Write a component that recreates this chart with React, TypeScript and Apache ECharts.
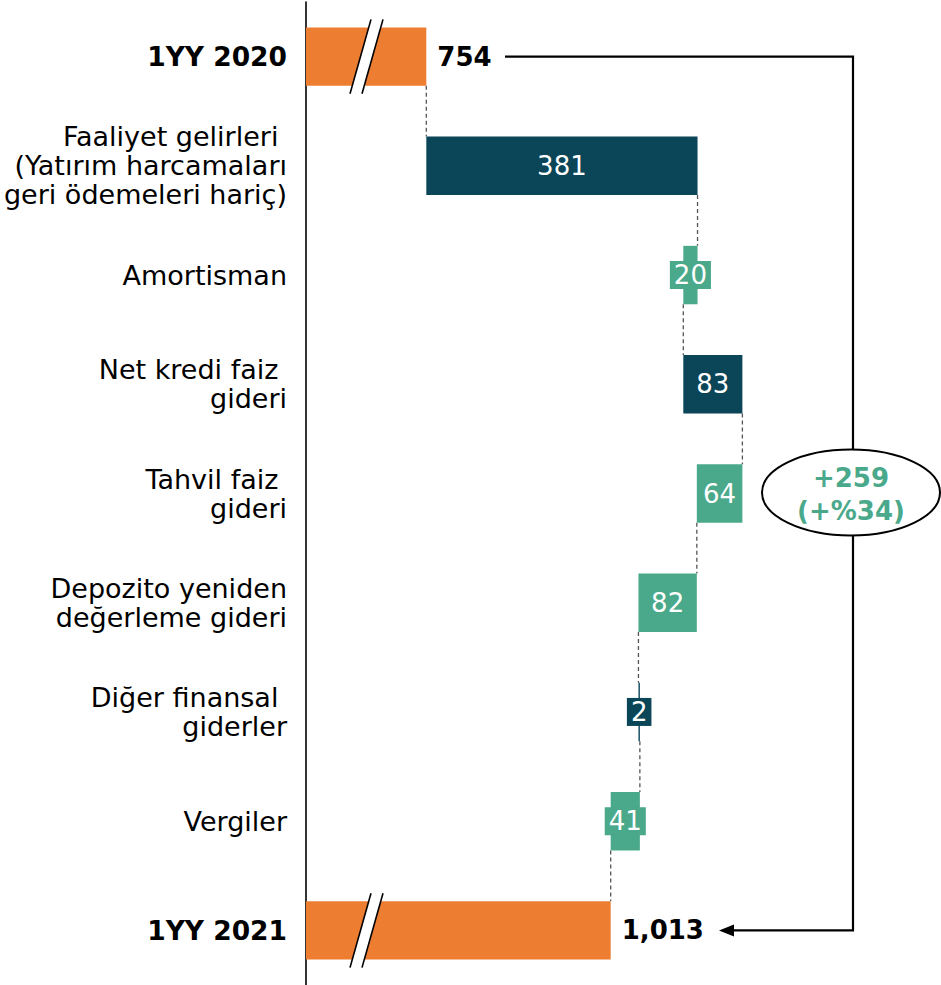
import React, { useEffect, useRef } from 'react';
import * as echarts from 'echarts';

const categories = [
  '1YY 2020',
  'Faaliyet gelirleri \n(Yatırım harcamaları\ngeri ödemeleri hariç)',
  'Amortisman',
  'Net kredi faiz \ngideri',
  'Tahvil faiz \ngideri',
  'Depozito yeniden\ndeğerleme gideri',
  'Diğer finansal \ngiderler',
  'Vergiler',
  '1YY 2021',
];
const startTotal = 754;
const changes = [381, -20, 83, -64, -82, 2, -41];
const endTotal = 1013;
const changeText = ['+259', '(+%34)'];
const axisMin = 585;
const axisMax = 1477;

const ORANGE = '#ED7D31';
const DARK = '#0B4558';
const GREEN = '#4AA98B';
const FONT = 'DejaVu Sans';

// rows: [catIndex, low, high, after, kind(0 total,1 up,2 down), labelValue]
function buildRows() {
  const rows: number[][] = [];
  rows.push([0, 0, startTotal, startTotal, 0, startTotal]);
  let run = startTotal;
  changes.forEach((d, i) => {
    const next = run + d;
    rows.push([i + 1, Math.min(run, next), Math.max(run, next), next, d > 0 ? 1 : 2, Math.abs(d)]);
    run = next;
  });
  rows.push([changes.length + 1, 0, endTotal, endTotal, 0, endTotal]);
  return rows;
}

export default function App() {
  const ref = useRef<HTMLDivElement>(null);
  useEffect(() => {
    if (!ref.current) return;
    const chart = echarts.init(ref.current, null, { renderer: 'svg' });
    const rows = buildRows();
    const nCat = categories.length;

    const renderItem = (params: any, api: any) => {
      const cat = api.value(0);
      const low = api.value(1);
      const high = api.value(2);
      const after = api.value(3);
      const kind = api.value(4);
      const lab = api.value(5);
      const cs = params.coordSys;
      const band = api.size([0, 1])[1];
      const h = band * 0.535;
      const pL = api.coord([low, cat]);
      const pH = api.coord([high, cat]);
      const x0 = Math.max(pL[0], cs.x);
      const x1 = pH[0];
      const cy = pL[1];
      const yT = cy - h / 2;
      const yB = cy + h / 2;
      const color = kind === 0 ? ORANGE : kind === 1 ? DARK : GREEN;
      const children: any[] = [];
      if (cat < nCat - 1) {
        const pA = api.coord([after, cat]);
        const pN = api.coord([after, cat + 1]);
        children.push({
          type: 'line',
          shape: { x1: pA[0], y1: yB, x2: pA[0], y2: pN[1] - h / 2 },
          style: { stroke: '#555', lineWidth: 1.3, lineDash: [4, 3] },
          z2: 1,
        });
      }
      children.push({
        type: 'rect',
        shape: { x: x0, y: yT, width: Math.max(x1 - x0, 0.5), height: h },
        style: { fill: color },
        z2: 2,
      });
      if (kind === 0) {
        const bx = x0;
        children.push({
          type: 'polygon',
          shape: { points: [[bx + 44, yB + 8], [bx + 56, yB + 8], [bx + 77, yT - 8], [bx + 65, yT - 8]] },
          style: { fill: '#fff' },
          z2: 3,
        });
        children.push({
          type: 'line',
          shape: { x1: bx + 44, y1: yB + 8, x2: bx + 65, y2: yT - 8 },
          style: { stroke: '#000', lineWidth: 1.6 },
          z2: 4,
        });
        children.push({
          type: 'line',
          shape: { x1: bx + 56, y1: yB + 8, x2: bx + 77, y2: yT - 8 },
          style: { stroke: '#000', lineWidth: 1.6 },
          z2: 4,
        });
        children.push({
          type: 'text',
          x: x1 + 11,
          y: cy,
          style: {
            text: lab.toLocaleString('en-US'),
            fill: '#000',
            fontSize: 26,
            fontWeight: 'bold',
            fontFamily: FONT,
            align: 'left',
            verticalAlign: 'middle',
          },
          z2: 5,
        });
      } else {
        children.push({
          type: 'text',
          x: (x0 + x1) / 2,
          y: cy,
          style: {
            text: String(lab),
            fill: '#fff',
            fontSize: 26,
            fontFamily: FONT,
            align: 'center',
            verticalAlign: 'middle',
            backgroundColor: color,
            padding: [1, 4, 1, 4],
          },
          z2: 5,
        });
      }
      return { type: 'group', children };
    };

    chart.setOption({
      animation: false,
      grid: { left: 306, top: 2, height: 984, right: 0 },
      xAxis: {
        type: 'value',
        min: axisMin,
        max: axisMax,
        show: false,
      },
      yAxis: {
        type: 'category',
        inverse: true,
        data: categories,
        axisLine: { lineStyle: { color: '#000', width: 1.6 } },
        axisTick: { show: false },
        axisLabel: {
          margin: 19,
          fontSize: 27,
          lineHeight: 29,
          fontFamily: FONT,
          color: '#000',
          align: 'right',
          formatter: (v: string, i: number) =>
            i === 0 || i === nCat - 1 ? `{b|${v}}` : v,
          rich: {
            b: { fontSize: 26.5, fontWeight: 'bold', fontFamily: FONT, color: '#000' },
          },
        },
      },
      series: [
        {
          type: 'custom',
          renderItem,
          encode: { x: [1, 2], y: 0 },
          data: rows,
          clip: false,
        },
      ],
    });

    const yTop = chart.convertToPixel({ gridIndex: 0 }, [startTotal, 0])[1];
    const yBot = chart.convertToPixel({ gridIndex: 0 }, [endTotal, nCat - 1])[1];
    const yMid = chart.convertToPixel({ gridIndex: 0 }, [endTotal, 4])[1];
    const vx = 853;
    chart.setOption({
      graphic: [
        {
          type: 'polyline',
          shape: { points: [[505, yTop], [vx, yTop], [vx, yBot], [730, yBot]] },
          style: { stroke: '#000', lineWidth: 2.2, fill: 'none' },
          z: 10,
        },
        {
          type: 'polygon',
          shape: { points: [[719, yBot], [734, yBot - 6], [734, yBot + 6]] },
          style: { fill: '#000' },
          z: 10,
        },
        {
          type: 'ellipse',
          shape: { cx: 851, cy: yMid - 1, rx: 89, ry: 43 },
          style: { fill: '#fff', stroke: '#000', lineWidth: 2 },
          z: 11,
        },
        {
          type: 'text',
          x: 851,
          y: yMid - 16,
          style: {
            text: changeText[0],
            fill: GREEN,
            fontSize: 26,
            fontWeight: 'bold',
            fontFamily: FONT,
            align: 'center',
            verticalAlign: 'middle',
          },
          z: 12,
        },
        {
          type: 'text',
          x: 851,
          y: yMid + 17,
          style: {
            text: changeText[1],
            fill: GREEN,
            fontSize: 26,
            fontWeight: 'bold',
            fontFamily: FONT,
            align: 'center',
            verticalAlign: 'middle',
          },
          z: 12,
        },
      ],
    });

    return () => chart.dispose();
  }, []);

  return (
    <div
      ref={ref}
      style={{ position: 'absolute', left: 0, top: 0, width: 941, height: 985, background: '#fff' }}
    />
  );
}
